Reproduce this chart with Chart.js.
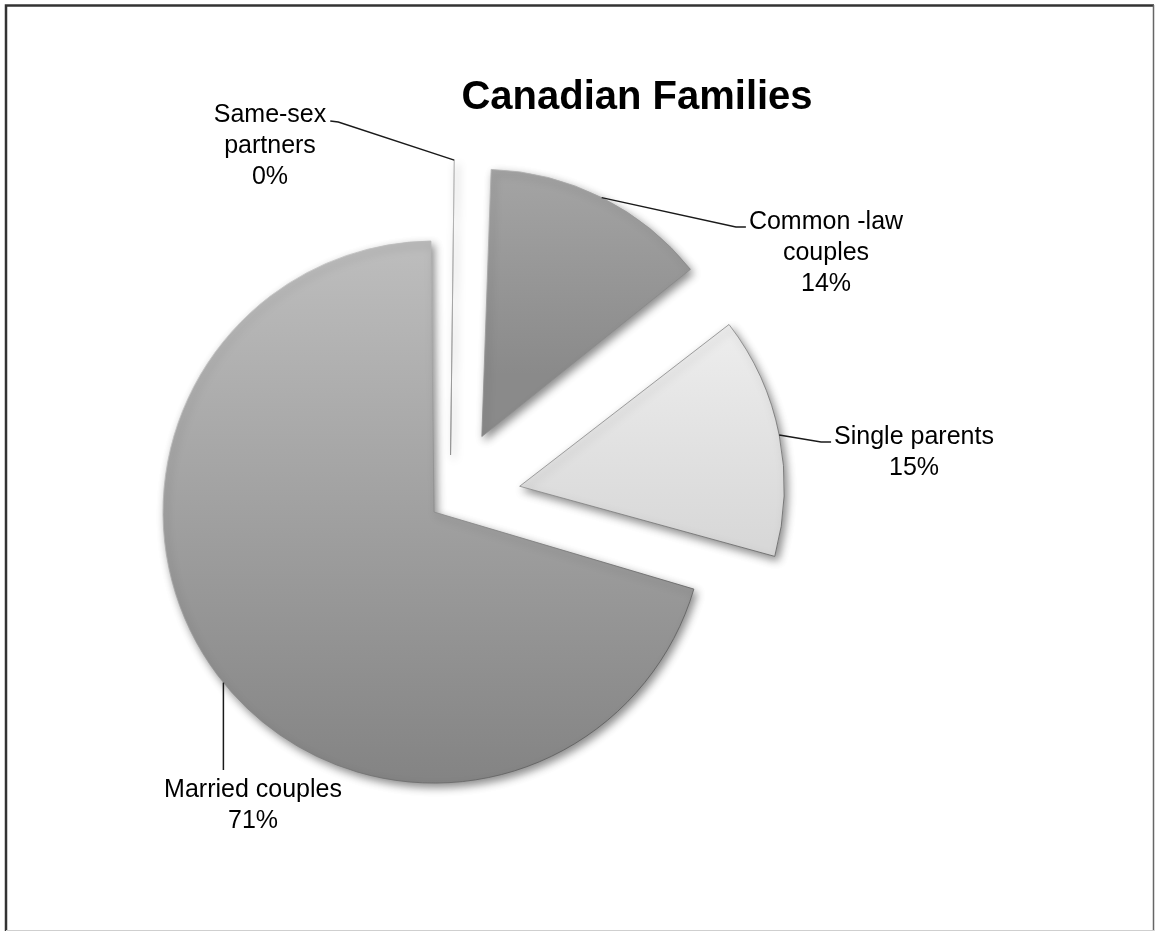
<!DOCTYPE html>
<html><head><meta charset="utf-8">
<script src="https://cdn.jsdelivr.net/npm/chart.js@4.4.0/dist/chart.umd.min.js"></script>
<style>html,body{margin:0;padding:0;background:#fff;}canvas{display:block;}</style>
</head><body>
<canvas id="c" width="1155" height="931"></canvas>
<script>
// ---- data ----
const chartTitle = 'Canadian Families';
const categories = ['Same-sex partners', 'Common -law couples', 'Single parents', 'Married couples'];
const labelLines = [['Same-sex', 'partners'], ['Common -law', 'couples'], ['Single parents'], ['Married couples']];
const shares = [0.4, 14.0, 15.0, 70.6];

// ---- styles ----
const fillTop    = ['#8c8c8c', '#acacac', '#efefef', '#bcbcbc'];
const fillBottom = ['#6e6e6e', '#8a8a8a', '#d8d8d8', '#828282'];
const fillSpan   = [[-335, -73], [-327, -62], [-178, 55], [-257, 285]];
const explode    = [180, 284, 284, 80];
const anchorFrac = [0.5, 0.5, 0.5, 0.4925];
const labelPos = [
  {x: 270, y: 115, lead: 'right'},
  {x: 826, y: 222, lead: 'left'},
  {x: 914, y: 437, lead: 'left'},
  {x: 253, y: 790, lead: 'top'}
];
const FONT = '25px "Liberation Sans", Arial, sans-serif';
const LINE_H = 31;

function centre(chart) {
  const ca = chart.chartArea;
  return {cx: (ca.left + ca.right) / 2, cy: (ca.top + ca.bottom) / 2};
}
function sliceFill(c) {
  const i = c.dataIndex, chart = c.chart;
  if (!chart.chartArea) return fillTop[i];
  const {cy} = centre(chart);
  const g = chart.ctx.createLinearGradient(0, cy + fillSpan[i][0], 0, cy + fillSpan[i][1]);
  g.addColorStop(0, fillTop[i]);
  g.addColorStop(1, fillBottom[i]);
  return g;
}
function sliceBorder(c) {
  const chart = c.chart;
  if (!chart.chartArea) return '#777';
  const {cx, cy} = centre(chart);
  const g = chart.ctx.createLinearGradient(cx - 280, cy - 330, cx + 300, cy + 290);
  g.addColorStop(0, 'rgba(235,235,235,0.9)');
  g.addColorStop(0.5, 'rgba(140,140,140,0.8)');
  g.addColorStop(1, 'rgba(70,70,70,0.9)');
  return g;
}

// point on the outer rim of a drawn (exploded) slice
function anchorOf(el, frac) {
  const p = el.getProps(['x', 'y', 'startAngle', 'endAngle', 'outerRadius', 'circumference'], true);
  const off = (el.options.offset || 0) / 4;
  const fix = 1 - Math.sin(Math.min(Math.PI, p.circumference || 0));
  const rr = p.outerRadius + off * fix;
  const mid = (p.startAngle + p.endAngle) / 2;
  const ang = p.startAngle + (p.endAngle - p.startAngle) * frac;
  return {x: p.x + Math.cos(mid) * off + Math.cos(ang) * rr, y: p.y + Math.sin(mid) * off + Math.sin(ang) * rr};
}

const shadowPlugin = {
  id: 'shadow',
  beforeDatasetsDraw(chart) {
    const ctx = chart.ctx;
    ctx.save();
    ctx.shadowColor = 'rgba(0,0,0,0.45)';
    ctx.shadowBlur = 8;
    ctx.shadowOffsetX = 3;
    ctx.shadowOffsetY = 4;
  },
  afterDatasetsDraw(chart) { chart.ctx.restore(); }
};

const annotatePlugin = {
  id: 'annotate',
  afterDraw(chart) {
    const ctx = chart.ctx;
    const total = shares.reduce((a, b) => a + b, 0);
    const arcs = chart.getDatasetMeta(0).data;
    ctx.save();
    // frame
    ctx.strokeStyle = '#333'; ctx.lineWidth = 2.5;
    ctx.beginPath(); ctx.moveTo(6, 931); ctx.lineTo(6, 5.5); ctx.lineTo(1154, 5.5); ctx.stroke();
    ctx.strokeStyle = '#666'; ctx.lineWidth = 1.5;
    ctx.beginPath(); ctx.moveTo(1153.5, 5); ctx.lineTo(1153.5, 931); ctx.stroke();
    ctx.strokeStyle = '#cfcfcf'; ctx.lineWidth = 1;
    ctx.beginPath(); ctx.moveTo(6, 930.5); ctx.lineTo(1154, 930.5); ctx.stroke();
    // title
    ctx.fillStyle = '#000';
    ctx.font = 'bold 40px "Liberation Sans", Arial, sans-serif';
    ctx.textAlign = 'center'; ctx.textBaseline = 'alphabetic';
    ctx.fillText(chartTitle, 637, 109);
    // labels
    ctx.font = FONT; ctx.textBaseline = 'middle';
    ctx.strokeStyle = '#1a1a1a'; ctx.lineWidth = 1.5;
    labelLines.forEach((lines, i) => {
      const pos = labelPos[i];
      const txt = lines.concat([Math.round(shares[i] / total * 100) + '%']);
      txt.forEach((s, k) => ctx.fillText(s, pos.x, pos.y + k * LINE_H));
      const w = ctx.measureText(lines[0]).width;
      const a = anchorOf(arcs[i], anchorFrac[i]);
      ctx.beginPath();
      if (pos.lead === 'right') {
        const x0 = pos.x + w / 2 + 4, y0 = pos.y + 6;
        ctx.moveTo(x0, y0); ctx.lineTo(x0 + 8, y0 + 1); ctx.lineTo(a.x, a.y);
      } else if (pos.lead === 'left') {
        const x0 = pos.x - w / 2 - 3, y0 = pos.y + 5;
        ctx.moveTo(x0, y0); ctx.lineTo(x0 - 10, y0); ctx.lineTo(a.x, a.y);
      } else {
        ctx.moveTo(a.x, a.y); ctx.lineTo(a.x, pos.y - 20);
      }
      ctx.stroke();
    });
    ctx.restore();
  }
};

new Chart(document.getElementById('c'), {
  type: 'pie',
  data: {
    labels: categories,
    datasets: [{
      data: shares,
      backgroundColor: sliceFill,
      borderColor: sliceBorder,
      borderWidth: 1,
      offset: explode,
      hoverOffset: explode
    }]
  },
  options: {
    responsive: false,
    animation: false,
    events: [],
    layout: {padding: {left: 56.5, right: 311.5, top: 106.5, bottom: 37.5}},
    plugins: {legend: {display: false}, title: {display: false}, tooltip: {enabled: false}}
  },
  plugins: [shadowPlugin, annotatePlugin]
});
</script>
</body></html>
